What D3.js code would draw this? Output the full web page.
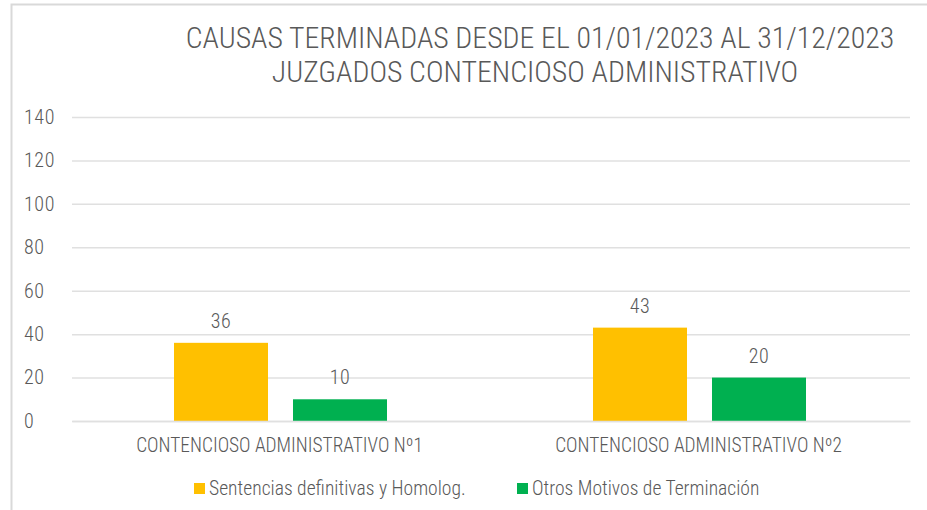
<!DOCTYPE html>
<html>
<head>
<meta charset="utf-8">
<script src="https://cdn.jsdelivr.net/npm/d3@7"></script>
<style>
  body { margin: 0; background: #fff; }
  svg { display: block; }
  text { font-family: "Liberation Sans Narrow", "Arial Narrow", "Roboto Condensed", sans-serif; font-weight: 300; fill: #595959; }
</style>
</head>
<body>
<svg width="927" height="510"></svg>
<script>
const categories = ["CONTENCIOSO ADMINISTRATIVO Nº1", "CONTENCIOSO ADMINISTRATIVO Nº2"];
const seriesNames = ["Sentencias definitivas y Homolog.", "Otros Motivos de Terminación"];
const sentencias = [36, 43];
const otros = [10, 20];
const yTicks = [0, 20, 40, 60, 80, 100, 120, 140];
const colors = ["#FFC000", "#00B050"];
const titleLines = ["CAUSAS TERMINADAS DESDE EL 01/01/2023 AL 31/12/2023", "JUZGADOS CONTENCIOSO ADMINISTRATIVO"];

const rows = categories.map((c, i) => ({ cat: c, values: [sentencias[i], otros[i]] }));

const svg = d3.select("svg");

// chart frame (top and left edges visible)
svg.append("path")
  .attr("d", "M11.5,510 V4.5 H927")
  .attr("fill", "none")
  .attr("stroke", "#d9d9d9")
  .attr("stroke-width", 2);

const margin = { left: 72, right: 17, top: 117, bottom: 89 };
const width = 927 - margin.left - margin.right;
const height = 510 - margin.top - margin.bottom;

const g = svg.append("g").attr("transform", `translate(${margin.left},${margin.top})`);

const x0 = d3.scaleBand().domain(categories).range([0, width]);
const x1 = d3.scaleBand().domain(seriesNames).range([0, 213]).paddingInner(0.21);
const y = d3.scaleLinear().domain([0, 140]).range([height, 0]);

// gridlines + y labels
const yAxis = g.append("g")
  .call(d3.axisLeft(y).tickValues(yTicks).tickSize(-width).tickPadding(20));
yAxis.select(".domain").remove();
yAxis.selectAll(".tick line").attr("stroke", "#e0e0e0").attr("stroke-width", 1.5);
yAxis.selectAll(".tick text")
  .attr("text-anchor", "start")
  .attr("x", -48)
  .style("font-size", "20px")
  .style("letter-spacing", "0.6px")
  .style("fill", "#595959");

// bars
const groups = g.selectAll(".grp").data(rows).enter().append("g")
  .attr("class", "grp")
  .attr("transform", d => `translate(${x0(d.cat) + x0.bandwidth() / 2 - 107.5},0)`);

groups.selectAll("rect")
  .data(d => d.values.map((v, i) => ({ name: seriesNames[i], v, i })))
  .enter().append("rect")
  .attr("x", d => x1(d.name))
  .attr("y", d => y(d.v))
  .attr("width", x1.bandwidth())
  .attr("height", d => height - y(d.v))
  .attr("fill", d => colors[d.i]);

groups.selectAll(".lbl")
  .data(d => d.values.map((v, i) => ({ name: seriesNames[i], v, i })))
  .enter().append("text")
  .attr("class", "lbl")
  .attr("x", d => x1(d.name) + x1.bandwidth() / 2)
  .attr("y", d => y(d.v) - 15)
  .attr("text-anchor", "middle")
  .style("font-size", "20px")
  .style("letter-spacing", "0.6px")
  .text(d => d.v);

// x axis baseline + category labels
const xAxis = g.append("g")
  .attr("transform", `translate(0,${height})`)
  .call(d3.axisBottom(x0).tickSize(0).tickPadding(17));
xAxis.select(".domain").attr("stroke", "#e0e0e0").attr("stroke-width", 1.5);
xAxis.selectAll(".tick text")
  .attr("dx", -2)
  .style("font-size", "19.4px")
  .style("fill", "#595959");

// title
const title = svg.append("text")
  .attr("text-anchor", "middle")
  .style("font-size", "29.8px");
titleLines.forEach((t, i) => {
  title.append("tspan").attr("x", 540 - i * 5).attr("y", 48 + i * 34).text(t);
});

// legend
const legendX = [194, 517];
const legend = svg.selectAll(".leg").data(seriesNames).enter().append("g")
  .attr("class", "leg")
  .attr("transform", (d, i) => `translate(${legendX[i]},483)`);
legend.append("rect").attr("width", 11).attr("height", 11).attr("fill", (d, i) => colors[i]);
legend.append("text")
  .attr("x", 15)
  .attr("y", 12)
  .style("font-size", "19.6px")
  .text(d => d);
</script>
</body>
</html>
